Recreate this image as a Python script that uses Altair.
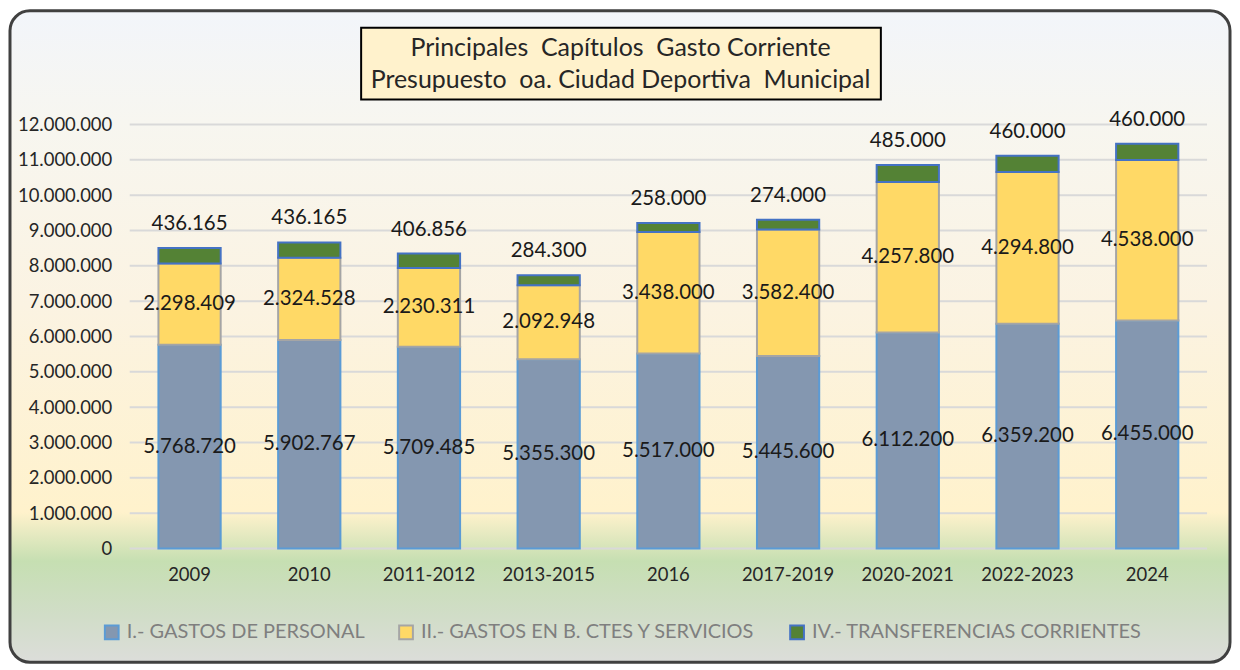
import altair as alt
import pandas as pd

categories = ["2009", "2010", "2011-2012", "2013-2015", "2016", "2017-2019",
              "2020-2021", "2022-2023", "2024"]
personal = [5768720, 5902767, 5709485, 5355300, 5517000, 5445600, 6112200, 6359200, 6455000]
bienes = [2298409, 2324528, 2230311, 2092948, 3438000, 3582400, 4257800, 4294800, 4538000]
transfer = [436165, 436165, 406856, 284300, 258000, 274000, 485000, 460000, 460000]
series = ["I.- GASTOS DE PERSONAL", "II.- GASTOS EN B. CTES Y SERVICIOS",
          "IV.- TRANSFERENCIAS CORRIENTES"]
fills = ["#8497B0", "#FFD966", "#548235"]
strokes = ["#5B9BD5", "#A5A5A5", "#4472C4"]
y_ticks = list(range(0, 12000001, 1000000))
NB = "\u00a0"
title_lines = [f"Principales {NB}Capítulos {NB}Gasto Corriente",
               f"Presupuesto {NB}oa. Ciudad Deportiva {NB}Municipal"]

FONT = "Lato"
W, H = 1080, 425

rows = []
for i, c in enumerate(categories):
    base = 0
    for k, vals in enumerate([personal, bienes, transfer]):
        v = vals[i]
        rows.append({
            "cat": c, "serie": series[k], "order": k, "value": v,
            "start": base, "end": base + v, "mid": base + v / 2,
            "label": f"{v:,}".replace(",", "."),
        })
        base += v
df = pd.DataFrame(rows)
ticks_df = pd.DataFrame({"tick": y_ticks})
one = pd.DataFrame({"k": [0]})

xscale = alt.Scale(domain=categories, paddingInner=0.48, paddingOuter=0.24)
yscale = alt.Scale(domain=[0, 12000000], nice=False)
xaxis = alt.Axis(title=None, domain=False, ticks=False, grid=False, labelFont=FONT,
                 labelFontSize=18.5, labelColor="#262626", labelPadding=17, labelAngle=0,
                 zindex=2)
yaxis = alt.Axis(title=None, domain=False, ticks=False, grid=False, labelFont=FONT,
                 labelFontSize=18.5, labelColor="#262626", labelPadding=18, values=y_ticks,
                 labelExpr="replace(format(datum.value, ','), /,/g, '.')", zindex=2)

background = alt.Chart(one).mark_rect(
    cornerRadius=20, stroke="#404040", strokeWidth=3,
    fill=alt.LinearGradient(
        gradient="linear", x1=0, x2=0, y1=0, y2=1,
        stops=[
            alt.GradientStop(offset=0.0, color="#F2F5FA"),
            alt.GradientStop(offset=0.17, color="#F7F6F0"),
            alt.GradientStop(offset=0.45, color="#FBF3E2"),
            alt.GradientStop(offset=0.77, color="#FFF2CC"),
            alt.GradientStop(offset=0.845, color="#C6DFB2"),
            alt.GradientStop(offset=0.93, color="#D1DDC8"),
            alt.GradientStop(offset=1.0, color="#DCDDDA"),
        ],
    ),
).encode(x=alt.value(-120), x2=alt.value(W + 23), y=alt.value(-114), y2=alt.value(H + 114))

grid = alt.Chart(ticks_df).mark_rule(color="#D9D9D9", strokeWidth=2).encode(
    y=alt.Y("tick:Q", scale=yscale, axis=yaxis),
    x=alt.value(0), x2=alt.value(W),
)

bars = alt.Chart(df).mark_bar(strokeWidth=2).encode(
    x=alt.X("cat:N", scale=xscale, axis=xaxis, sort=categories),
    y=alt.Y("start:Q", scale=yscale, axis=yaxis),
    y2="end:Q",
    fill=alt.Fill("serie:N", scale=alt.Scale(domain=series, range=fills),
                  legend=alt.Legend(title=None)),
    stroke=alt.Stroke("serie:N", scale=alt.Scale(domain=series, range=strokes),
                      legend=alt.Legend(title=None)),
    order=alt.Order("order:Q"),
)

inner = alt.Chart(df).transform_filter("datum.order < 2").mark_text(
    font=FONT, fontSize=20.5, color="#1A1A1A", baseline="middle"
).encode(
    x=alt.X("cat:N", scale=xscale, axis=xaxis, sort=categories),
    y=alt.Y("mid:Q", scale=yscale, axis=yaxis),
    text="label:N",
)

top = alt.Chart(df).transform_filter("datum.order == 2").mark_text(
    font=FONT, fontSize=20.5, color="#1A1A1A", baseline="middle", dy=-24
).encode(
    x=alt.X("cat:N", scale=xscale, axis=xaxis, sort=categories),
    y=alt.Y("end:Q", scale=yscale, axis=yaxis),
    text="label:N",
)

title_box = alt.Chart(one).mark_rect(fill="#FFF2CC", stroke="#000000", strokeWidth=2).encode(
    x=alt.value(232), x2=alt.value(753), y=alt.value(-97), y2=alt.value(-25)
)
t1 = alt.Chart(one).mark_text(text=title_lines[0], font=FONT, fontSize=25, color="#262626",
                              baseline="middle").encode(x=alt.value(492), y=alt.value(-77))
t2 = alt.Chart(one).mark_text(text=title_lines[1], font=FONT, fontSize=25, color="#262626",
                              baseline="middle").encode(x=alt.value(492), y=alt.value(-45))

chart = alt.layer(background, grid, bars, inner, top, title_box, t1, t2).properties(
    width=W, height=H,
    autosize=alt.AutoSizeParams(type="none"),
    padding={"left": 122, "top": 116, "right": 25, "bottom": 116},
).configure_legend(
    orient="none", legendX=-28, legendY=499, direction="horizontal",
    symbolType="square", symbolSize=190, symbolStrokeWidth=2,
    labelFont=FONT, labelFontSize=20, labelColor="#7F7F7F", labelOffset=5,
    labelLimit=0, columnPadding=30,
).configure_view(stroke=None)

chart.save("out.html", embed_options={"renderer": "svg", "actions": False})
